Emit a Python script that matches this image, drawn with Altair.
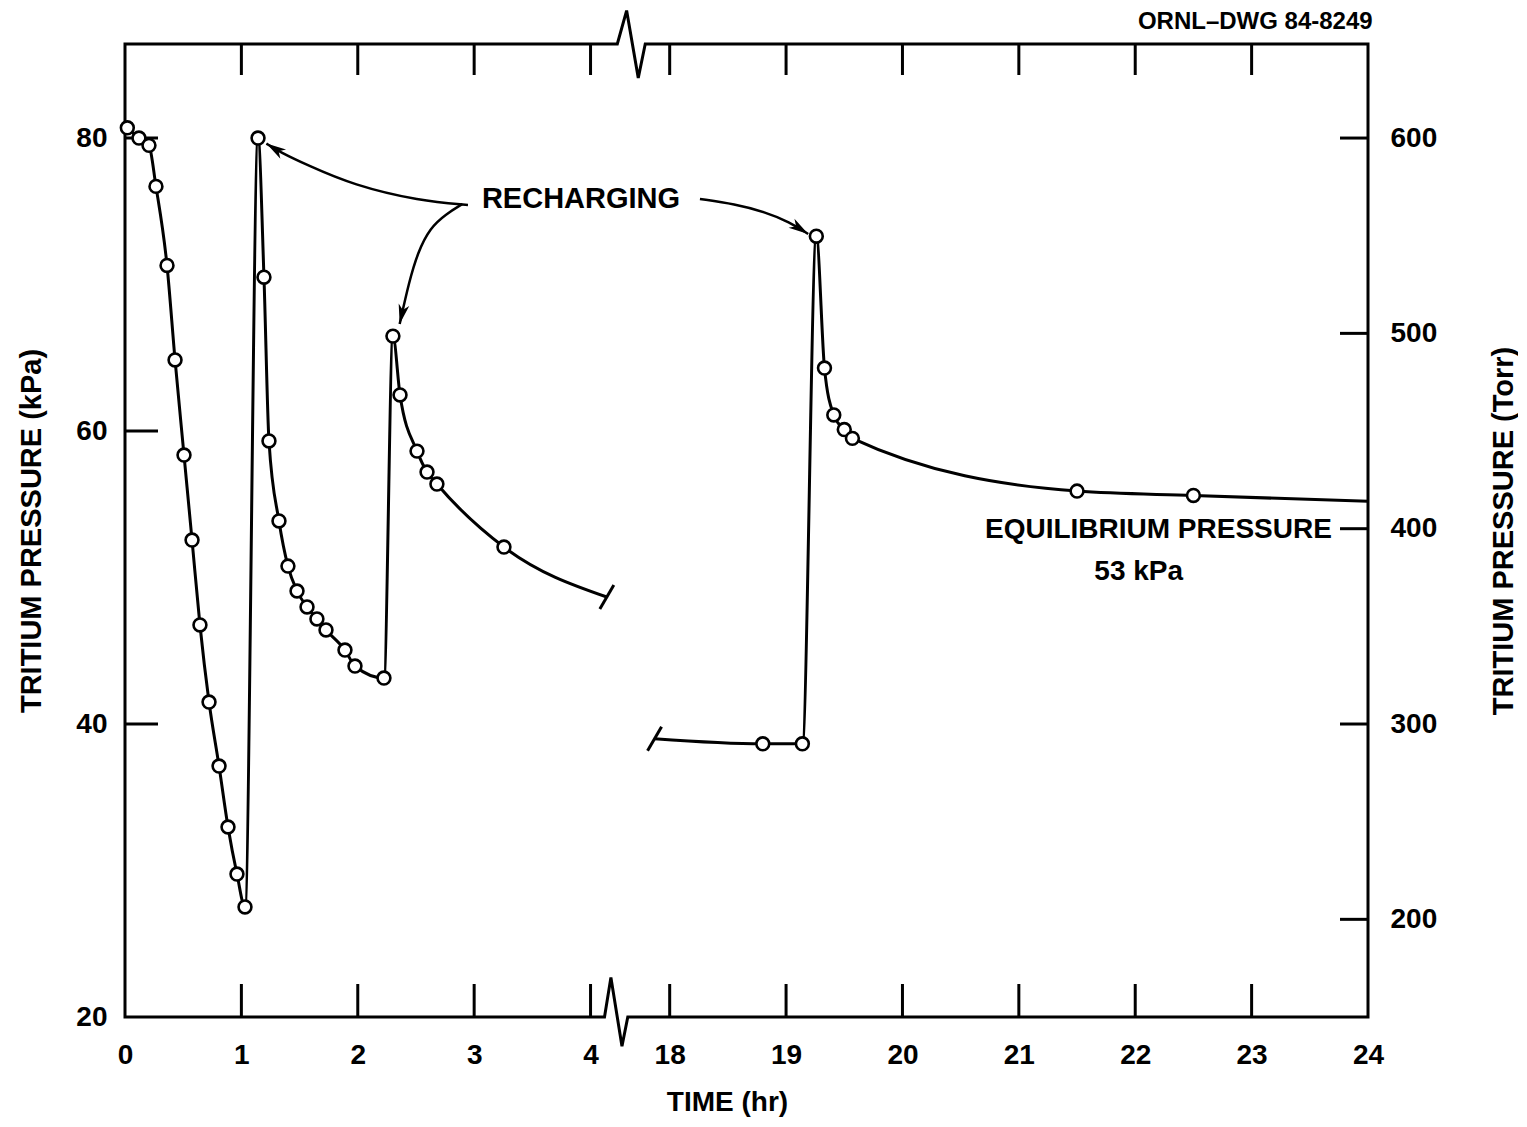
import math
import altair as alt
import pandas as pd

# ---------------- data (time in hours, pressure in kPa) ----------------
seg1_time = [0.02, 0.12, 0.206, 0.266, 0.361, 0.43, 0.507, 0.576, 0.644, 0.722, 0.808, 0.885,
             0.962, 1.031, 1.143, 1.194, 1.237, 1.323, 1.40, 1.478, 1.564, 1.649, 1.727, 1.89,
             1.976, 2.225, 2.302, 2.363, 2.509, 2.595, 2.68, 3.256]
seg1_kpa = [80.7, 80.0, 79.5, 76.7, 71.3, 64.85, 58.36, 52.56, 46.76, 41.5, 37.13, 32.97,
            29.76, 27.51, 80.0, 70.5, 59.32, 53.86, 50.78, 49.08, 47.99, 47.17, 46.42, 45.05,
            43.96, 43.14, 66.48, 62.46, 58.63, 57.2, 56.38, 52.08]
seg1_end_time, seg1_end_kpa = 4.14, 48.67

seg2_start_time, seg2_start_kpa = 17.87, 39.0
seg2_time = [18.80, 19.14, 19.26, 19.33, 19.41, 19.50, 19.57, 21.50, 22.50]
seg2_kpa = [38.65, 38.65, 73.3, 64.3, 61.1, 60.1, 59.5, 55.9, 55.6]
seg2_end_time, seg2_end_kpa = 24.0, 55.2

x_tick_hours = [0, 1, 2, 3, 4, 18, 19, 20, 21, 22, 23, 24]
inner_x_tick_hours = [1, 2, 3, 4, 18, 19, 20, 21, 22, 23]
kpa_ticks = [20, 40, 60, 80]
inner_kpa_ticks = [40, 60, 80]
torr_ticks = [200, 300, 400, 500, 600]
TORR_PER_KPA = 7.5

# annotation arrows (hours, kPa)
arrow1_time = [2.947, 2.534, 1.959, 1.564, 1.332, 1.215]
arrow1_kpa = [75.43, 75.70, 76.79, 78.16, 79.04, 79.62]
arrow2_time = [2.90, 2.758, 2.62, 2.517, 2.44, 2.36]
arrow2_kpa = [75.5, 74.81, 73.86, 72.22, 70.17, 67.3]
arrow3_time = [18.26, 18.56, 18.82, 19.03, 19.19]
arrow3_kpa = [75.84, 75.49, 74.95, 74.27, 73.45]

label_text = ["RECHARGING", "EQUILIBRIUM PRESSURE", "53 kPa", "ORNL\u2013DWG 84-8249"]
label_time = [3.918, 23.69, 22.03, 24.04]
label_kpa = [75.84, 53.24, 50.4, 87.92]
label_align = ["center", "right", "center", "right"]
label_size = [29, 28, 28, 24]

# ---------------- layout of the broken axis ----------------
SHIFT = 13.32            # hours cut out by the axis break
X_MAX = 24 - SHIFT
Y_MIN, Y_MAX = 20.0, 86.42
PX_U = 116.4
PX_KPA = 14.65
W = round(X_MAX * PX_U)
H = round((Y_MAX - Y_MIN) * PX_KPA)
FONT = "Liberation Sans"

# break marks drawn into the frame (u = plotted hours)
top_zig_u = [4.23, 4.31, 4.41, 4.47]
top_zig_kpa = [Y_MAX, 88.7, 84.1, Y_MAX]
bot_zig_u = [4.32, 4.27, 4.175, 4.12]
bot_zig_kpa = [Y_MIN, 18.0, 22.7, Y_MIN]

U_EXPR = f"datum.t < 10 ? datum.t : datum.t - {SHIFT}"
xs = alt.Scale(domain=[0, X_MAX], nice=False, zero=False)
ys = alt.Scale(domain=[Y_MIN, Y_MAX], nice=False, zero=False)


def to_u(t):
    return t if t < 10 else t - SHIFT


def X(field="u", axis=None):
    return alt.X(f"{field}:Q", scale=xs, axis=axis)


def Y(field="p", axis=None):
    return alt.Y(f"{field}:Q", scale=ys, axis=axis)


# ---------------- frame ----------------
frame_u = [0, 0] + top_zig_u + [X_MAX, X_MAX] + bot_zig_u + [0]
frame_p = [Y_MIN, Y_MAX] + top_zig_kpa + [Y_MAX, Y_MIN] + bot_zig_kpa + [Y_MIN]
frame_df = pd.DataFrame({"u": frame_u, "p": frame_p, "i": range(len(frame_u))})
frame = alt.Chart(frame_df).mark_line(color="black", strokeWidth=3, strokeCap="square").encode(
    x=X(), y=Y(), order="i:Q")

# ---------------- inward ticks ----------------
xt_df = pd.DataFrame({"t": inner_x_tick_hours})
top_ticks = alt.Chart(xt_df).transform_calculate(u=U_EXPR).mark_rule(
    color="black", strokeWidth=3).encode(x=X(), y=alt.value(0), y2=alt.value(31))
bot_ticks = alt.Chart(xt_df).transform_calculate(u=U_EXPR).mark_rule(
    color="black", strokeWidth=3).encode(x=X(), y=alt.value(H), y2=alt.value(H - 33))
left_ticks = alt.Chart(pd.DataFrame({"p": inner_kpa_ticks})).mark_rule(
    color="black", strokeWidth=3).encode(y=Y(), x=alt.value(0), x2=alt.value(33))

right_axis = alt.Axis(
    orient="right", values=[v / TORR_PER_KPA for v in torr_ticks],
    labelExpr=f"format(datum.value*{TORR_PER_KPA}, '.0f')",
    title="TRITIUM PRESSURE (Torr)", titleAngle=270, titleBaseline="top",
    ticks=False, domain=False, grid=False,
    labelFont=FONT, labelFontSize=28, labelFontWeight="bold", labelColor="black",
    labelPadding=22, labelAlign="left",
    titleFont=FONT, titleFontSize=29, titleFontWeight="bold", titleColor="black",
    titlePadding=53)
right_ticks = alt.Chart(pd.DataFrame({"p": [v / TORR_PER_KPA for v in torr_ticks]})).mark_rule(
    color="black", strokeWidth=3).encode(y=Y(axis=right_axis), x=alt.value(W - 28), x2=alt.value(W))

# ---------------- curves ----------------
rows = []
for t, p in zip(seg1_time, seg1_kpa):
    rows.append({"seg": "a", "t": t, "p": p})
rows.append({"seg": "a", "t": seg1_end_time, "p": seg1_end_kpa})
rows.append({"seg": "b", "t": seg2_start_time, "p": seg2_start_kpa})
for t, p in zip(seg2_time, seg2_kpa):
    rows.append({"seg": "b", "t": t, "p": p})
rows.append({"seg": "b", "t": seg2_end_time, "p": seg2_end_kpa})
curve_df = pd.DataFrame(rows)

x_axis = alt.Axis(
    orient="bottom",
    values=[to_u(t) for t in x_tick_hours],
    labelExpr=f"datum.value < 4.5 ? format(datum.value, '.0f') : format(datum.value + {SHIFT}, '.0f')",
    title="TIME (hr)", ticks=False, domain=False, grid=False,
    labelFlush=False, labelOverlap=False,
    labelFont=FONT, labelFontSize=28, labelFontWeight="bold", labelColor="black", labelPadding=24,
    titleFont=FONT, titleFontSize=28, titleFontWeight="bold", titleColor="black",
    titlePadding=19, titleX=602)
left_axis = alt.Axis(
    values=kpa_ticks, title="TRITIUM PRESSURE (kPa)", ticks=False, domain=False, grid=False,
    labelFont=FONT, labelFontSize=28, labelFontWeight="bold", labelColor="black", labelPadding=18,
    titleFont=FONT, titleFontSize=29, titleFontWeight="bold", titleColor="black", titlePadding=29)

curves = alt.Chart(curve_df).transform_calculate(u=U_EXPR).mark_line(
    color="black", strokeWidth=3, interpolate="monotone").encode(
    x=X(axis=x_axis), y=Y(axis=left_axis), detail="seg:N")

pts_df = pd.DataFrame({"t": seg1_time + seg2_time, "p": seg1_kpa + seg2_kpa})
points = alt.Chart(pts_df).transform_calculate(u=U_EXPR).mark_circle(
    size=165, fill="white", stroke="black", strokeWidth=2.6, opacity=1).encode(x=X(), y=Y())

# ---------------- break caps on the curve ends ----------------
cdx, cdy = 7 / PX_U, 12 / PX_KPA
caps = []
for t, p in [(seg1_end_time, seg1_end_kpa), (seg2_start_time, seg2_start_kpa)]:
    u = to_u(t)
    caps.append({"u1": u - cdx, "u2": u + cdx, "p1": p - cdy, "p2": p + cdy})
caps_layer = alt.Chart(pd.DataFrame(caps)).mark_rule(color="black", strokeWidth=3).encode(
    x=X("u1"), x2="u2:Q", y=Y("p1"), y2="p2:Q")

# ---------------- arrows ----------------
arows, heads = [], []
for name, ts, ps in [("a1", arrow1_time, arrow1_kpa), ("a2", arrow2_time, arrow2_kpa),
                     ("a3", arrow3_time, arrow3_kpa)]:
    for i, (t, p) in enumerate(zip(ts, ps)):
        arows.append({"arrow": name, "i": i, "t": t, "p": p})
    dx = (to_u(ts[-1]) - to_u(ts[-2])) * PX_U
    dy = -(ps[-1] - ps[-2]) * PX_KPA
    ang = math.degrees(math.atan2(dx, -dy)) % 360
    heads.append({"t": ts[-1], "p": ps[-1], "angle": ang})

arrows = alt.Chart(pd.DataFrame(arows)).transform_calculate(u=U_EXPR).mark_line(
    color="black", strokeWidth=2.5, interpolate="basis").encode(
    x=X(), y=Y(), detail="arrow:N", order="i:Q")
ARROW_SHAPE = "M0,0L0.3,1.1L0,0.8L-0.3,1.1Z"
arrowheads = alt.Chart(pd.DataFrame(heads)).transform_calculate(u=U_EXPR).mark_point(
    shape=ARROW_SHAPE, size=1296, filled=True, color="black", opacity=1).encode(
    x=X(), y=Y(), angle=alt.Angle("angle:Q", scale=None))

# ---------------- texts ----------------
text_layers = []
for txt, t, p, al, fs in zip(label_text, label_time, label_kpa, label_align, label_size):
    text_layers.append(
        alt.Chart(pd.DataFrame({"t": [t], "p": [p], "txt": [txt]})).transform_calculate(u=U_EXPR)
        .mark_text(font=FONT, fontSize=fs, fontWeight="bold", color="black", align=al,
                   baseline="middle")
        .encode(x=X(), y=Y(), text="txt:N"))

chart = alt.layer(
    frame, top_ticks, bot_ticks, left_ticks, right_ticks, curves, points, caps_layer,
    arrows, arrowheads, *text_layers
).resolve_axis(x="independent", y="independent").properties(
    width=W, height=H,
    autosize=alt.AutoSizeParams(type="none"),
    padding={"left": 117, "top": 36, "right": 150, "bottom": 102},
    background="white",
).configure_view(stroke=None)

chart.save("out.html", embed_options={"renderer": "svg", "actions": False})
